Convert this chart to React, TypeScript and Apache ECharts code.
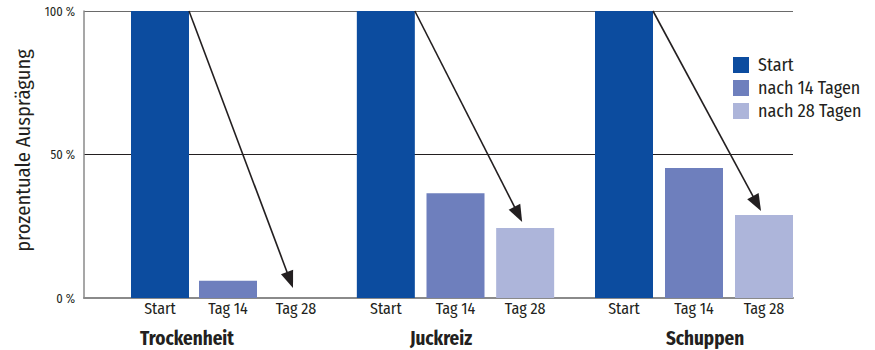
import React, { useEffect, useRef } from "react";
import * as echarts from "echarts";

const groups = ["Trockenheit", "Juckreiz", "Schuppen"];
const timepoints = ["Start", "Tag 14", "Tag 28"];
const seriesNames = ["Start", "nach 14 Tagen", "nach 28 Tagen"];
const startValues = [100, 100, 100];
const day14Values = [6, 36.5, 45.3];
const day28Values = [0, 24.4, 28.9];
const arrowEnds = [3.5, 26.5, 30.3];
const yTicks = [0, 50, 100];

const colors = ["#0c4c9f", "#6e7fbd", "#adb5da"];
const FONT = "'Fira Sans Condensed', 'Roboto Condensed', sans-serif";
const TEXT = "#231f20";

// group grid layout (pixels)
const groupLefts = [126, 351, 589];
const groupWidths = [204, 209, 210];
const groupLabelX = [187, 441, 705];

export default function App() {
  const ref = useRef<HTMLDivElement>(null);
  useEffect(() => {
    if (!ref.current) return;
    const chart = echarts.init(ref.current, undefined, { renderer: "svg" });
    const valuesByTime = [startValues, day14Values, day28Values];

    const grids: any[] = [{ left: 84, right: 82, top: 11, bottom: 52 }];
    const xAxes: any[] = [
      {
        gridIndex: 0,
        type: "value",
        min: 0,
        max: 1,
        axisLine: { show: true, onZero: false, lineStyle: { color: "#8a8a8a", width: 2 } },
        axisTick: { show: false },
        axisLabel: { show: false },
        splitLine: { show: false },
      },
    ];
    const yAxes: any[] = [
      {
        gridIndex: 0,
        type: "value",
        min: 0,
        max: 100,
        interval: 50,
        name: "prozentuale Ausprägung",
        nameLocation: "middle",
        nameGap: 49,
        nameTextStyle: { fontFamily: FONT, fontSize: 20.5, color: TEXT, padding: [0, 0, 0, 8] },
        axisLine: { show: true, lineStyle: { color: "#8a8a8a", width: 1.5 } },
        axisTick: { show: false },
        axisLabel: {
          formatter: (v: number) => (yTicks.includes(v) ? `${v} %` : ""),
          fontFamily: FONT,
          fontSize: 12.5,
          color: TEXT,
          margin: 9,
        },
        splitLine: { show: true, lineStyle: { color: ["#8a8a8a", "#231f20", "#6a6a6a"], width: 1 } },
      },
    ];
    const series: any[] = [];

    groups.forEach((g, gi) => {
      grids.push({ left: groupLefts[gi], width: groupWidths[gi], top: 11, bottom: 52 });
      xAxes.push({
        gridIndex: gi + 1,
        type: "category",
        data: timepoints,
        axisLine: { show: false },
        axisTick: { show: false },
        axisLabel: { fontFamily: FONT, fontSize: 16, color: TEXT, margin: 2 },
        splitLine: { show: false },
      });
      yAxes.push({ gridIndex: gi + 1, type: "value", min: 0, max: 100, show: false, splitLine: { show: false } });
      seriesNames.forEach((sn, si) => {
        const data = timepoints.map((_, ti) => (ti === si ? valuesByTime[si][gi] : "-"));
        series.push({
          type: "bar",
          name: sn,
          xAxisIndex: gi + 1,
          yAxisIndex: gi + 1,
          stack: "g" + gi,
          barWidth: 58,
          itemStyle: { color: colors[si] },
          data,
        });
      });
      series.push({
        type: "custom",
        xAxisIndex: gi + 1,
        yAxisIndex: gi + 1,
        silent: true,
        z: 5,
        data: [[2, arrowEnds[gi]]],
        renderItem: (params: any, api: any) => {
          const top = api.coord([0, 100]);
          const end = api.coord([api.value(0), api.value(1)]);
          const x0 = top[0] + 29;
          const y0 = top[1];
          const x1 = end[0] - 3;
          const y1 = end[1];
          const dx = x1 - x0;
          const dy = y1 - y0;
          const len = Math.sqrt(dx * dx + dy * dy);
          const ux = dx / len;
          const uy = dy / len;
          const headLen = 17;
          const headW = 6.5;
          const bx = x1 - ux * headLen;
          const by = y1 - uy * headLen;
          return {
            type: "group",
            children: [
              {
                type: "line",
                shape: { x1: x0, y1: y0, x2: bx + ux * 2, y2: by + uy * 2 },
                style: { stroke: "#231f20", lineWidth: 1.6 },
              },
              {
                type: "polygon",
                shape: {
                  points: [
                    [x1, y1],
                    [bx - uy * headW, by + ux * headW],
                    [bx + uy * headW, by - ux * headW],
                  ],
                },
                style: { fill: "#231f20" },
              },
            ],
          };
        },
      });
    });

    chart.setOption({
      animation: false,
      backgroundColor: "#ffffff",
      grid: grids,
      xAxis: xAxes,
      yAxis: yAxes,
      legend: {
        data: seriesNames,
        orient: "vertical",
        left: 733,
        top: 56,
        padding: 0,
        icon: "rect",
        itemWidth: 16,
        itemHeight: 16,
        itemGap: 5,
        textStyle: { fontFamily: FONT, fontSize: 18, color: TEXT, padding: [0, 0, 0, 4] },
      },
      graphic: groups.map((g, gi) => ({
        type: "text",
        x: groupLabelX[gi],
        y: 338,
        style: {
          text: g,
          fontFamily: FONT,
          fontSize: 19,
          fontWeight: "bold",
          fill: TEXT,
          align: "center",
          verticalAlign: "middle",
        },
      })),
      series,
    });
    return () => chart.dispose();
  }, []);
  return <div ref={ref} style={{ position: "absolute", left: 0, top: 0, width: 875, height: 350 }} />;
}
